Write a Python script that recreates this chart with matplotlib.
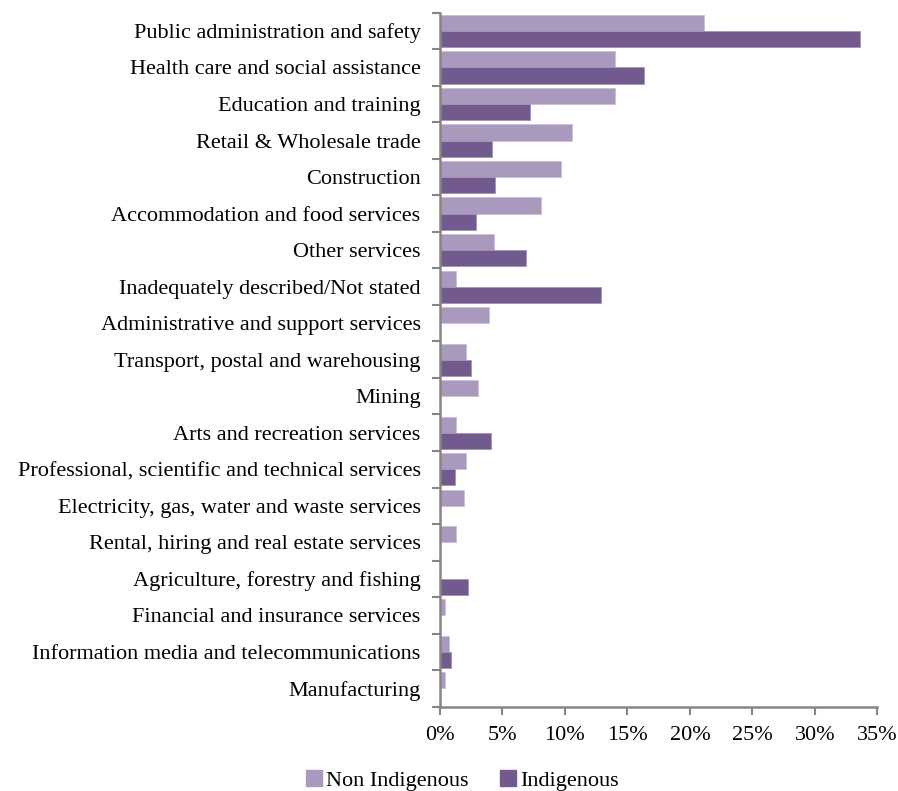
import matplotlib
matplotlib.use("Agg")
import matplotlib.pyplot as plt
import numpy as np
from matplotlib.patches import Patch

# industries, top to bottom
industries = [
    "Public administration and safety",
    "Health care and social assistance",
    "Education and training",
    "Retail & Wholesale trade",
    "Construction",
    "Accommodation and food services",
    "Other services",
    "Inadequately described/Not stated",
    "Administrative and support services",
    "Transport, postal and warehousing",
    "Mining",
    "Arts and recreation services",
    "Professional, scientific and technical services",
    "Electricity, gas, water and waste services",
    "Rental, hiring and real estate services",
    "Agriculture, forestry and fishing",
    "Financial and insurance services",
    "Information media and telecommunications",
    "Manufacturing",
]
# share of employed persons (%)
non_indigenous = [21.1, 14.0, 14.0, 10.6, 9.7, 8.1, 4.3, 1.3, 3.9, 2.1,
                  3.0, 1.3, 2.1, 1.9, 1.3, 0.0, 0.4, 0.7, 0.4]
indigenous = [33.6, 16.3, 7.2, 4.2, 4.4, 2.9, 6.9, 12.9, 0.0, 2.5,
              0.0, 4.1, 1.2, 0.0, 0.0, 2.2, 0.0, 0.9, 0.0]
xticks = [0, 5, 10, 15, 20, 25, 30, 35]

c_non = "#a99abd"
c_ind = "#725a8f"
font = "Liberation Serif"
fs = 16

plt.rcParams['font.family'] = [font, 'DejaVu Serif']

fig = plt.figure(figsize=(8.98, 7.91), dpi=100)
ax = fig.add_axes([0.49, 0.1066, 0.977 - 0.49, 0.984 - 0.1066])

y = np.arange(len(industries))
h = 0.44
ax.barh(y - h / 2, non_indigenous, height=h, color=c_non, edgecolor="#c9bfd6", linewidth=0.6)
ax.barh(y + h / 2, indigenous, height=h, color=c_ind, edgecolor="#a294b5", linewidth=0.6)

ax.set_ylim(len(industries) - 0.5, -0.5)
ax.set_xlim(0, 35)

ax.set_yticks(y)
ax.set_yticklabels(industries, fontsize=fs)
ax.set_yticks(np.arange(len(industries) + 1) - 0.5, minor=True)
ax.tick_params(axis="y", which="major", length=0, pad=14)
ax.tick_params(axis="y", which="minor", length=6, width=1.5, color="#868686")

ax.set_xticks(xticks)
ax.set_xticklabels([f"{v}%" for v in xticks], fontsize=fs)
ax.tick_params(axis="x", length=6, width=1.5, color="#868686", pad=8)

for s in ["top", "right"]:
    ax.spines[s].set_visible(False)
for s in ["left", "bottom"]:
    ax.spines[s].set_color("#868686")
    ax.spines[s].set_linewidth(1.8)

handles = [Patch(color=c_non, label="Non Indigenous"),
           Patch(color=c_ind, label="Indigenous")]
fig.legend(handles=handles, loc="center", bbox_to_anchor=(0.515, 0.013), ncol=2,
           frameon=False, fontsize=fs, handlelength=0.7, handleheight=0.7,
           handletextpad=0.2, columnspacing=1.4)

fig.savefig("out.png", dpi=100)
